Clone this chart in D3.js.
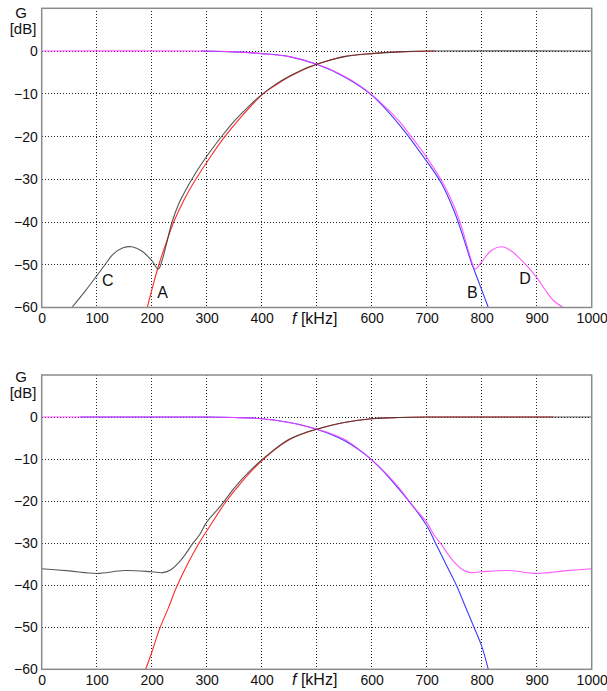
<!DOCTYPE html>
<html lang="en">
<head>
  <meta charset="UTF-8">
  <title>Filter gain G [dB] vs f [kHz]</title>
  <script src="https://d3js.org/d3.v7.min.js"></script>
  <style>
    body { margin: 0; background: #fff; }
    svg { display: block; font-family: "Liberation Sans", Arial, sans-serif; }
    .grid line { stroke: #222; stroke-width: 1; stroke-dasharray: 1,2; shape-rendering: crispEdges; }
    .frame { fill: none; stroke: #8a8a8a; stroke-width: 1.5; }
    .tick text { font-size: 14px; fill: #111; }
    .curve { fill: none; stroke-width: 1.1; }
    .lbl { fill: #111; }
  </style>
</head>
<body>
<svg width="607" height="691"></svg>
<script>
  // axis ticks
  const xTicks = [0, 100, 200, 300, 400, 500, 600, 700, 800, 900, 1000];
  const yTicks = [0, -10, -20, -30, -40, -50, -60];

  // top panel, [f kHz, G dB]
  const topMagenta = [[0,0],[300,0],[350,-0.2],[400,-0.6],[450,-1.3],[475,-2.1],[500,-3.1],
    [525,-4.3],[550,-5.9],[575,-7.8],[600,-10.2],[625,-13.1],[650,-16.4],[673,-20.2],[692,-23.4],
    [710,-26.8],[727,-30.3],[740,-33.5],[752,-37],[763,-41],[772,-45],[780,-48.5],[788,-51],
    [800,-49.3],[818,-46.6],[836,-45.8],[852,-46.6],[868,-48.4],[884,-50.5],[900,-53],
    [915,-55.8],[930,-58.3],[948,-60]];
  const topBlue = [[290,0],[350,-0.2],[400,-0.6],[450,-1.3],[500,-3.1],[550,-6],[600,-10.3],
    [650,-17.2],[700,-25.8],[727,-31],[750,-37.5],[765,-43],[780,-49],[796,-54.5],[812,-60]];
  const topBlack = [[55,-60],[80,-56],[100,-52.6],[115,-50],[130,-47.5],[148,-46],[164,-45.8],
    [182,-46.8],[200,-49],[212,-51],[220,-48.5],[228,-44.5],[237,-40],[250,-35.5],[262,-32.5],
    [273,-30],[290,-26.5],[308,-23.2],[327,-20],[350,-16.4],[375,-13.1],[400,-10.2],[425,-7.8],
    [450,-5.9],[475,-4.3],[500,-3.1],[525,-2.1],[550,-1.3],[600,-0.6],[650,-0.2],[700,0],[1000,0]];
  const topRed = [[192,-60],[202,-55],[213,-50],[226,-45],[240,-40],[258,-35],[280,-30],
    [303,-25.5],[330,-20.5],[360,-15.8],[400,-10.3],[425,-8],[450,-6],[500,-3.1],[550,-1.3],
    [600,-0.6],[650,-0.2],[715,0]];
  const topLabels = [["C",120,-54.9],["A",220,-57.7],["B",783,-57.7],["D",879,-54.4]];

  // bottom panel
  const botMagenta = [[0,0],[300,0],[350,-0.1],[400,-0.4],[450,-1.3],[475,-2],[500,-2.9],
    [525,-3.9],[550,-5.3],[575,-7.5],[600,-10.2],[625,-13.3],[650,-16.9],[675,-21.2],
    [700,-25],[713,-28],[725,-30],[738,-32.5],[750,-34.5],[765,-36.3],[780,-37],[800,-36.8],
    [850,-36.5],[900,-37.2],[950,-36.6],[1000,-36.1]];
  const botBlue = [[70,0],[300,0],[350,-0.1],[400,-0.4],[450,-1.3],[500,-2.9],[550,-5.6],
    [600,-10.2],[650,-17.2],[700,-25.8],[716,-30],[735,-35],[754,-40],[770,-45],[786,-50],
    [800,-54.5],[812,-60]];
  const botBlack = [[0,-36.1],[50,-36.6],[100,-37.2],[150,-36.5],[200,-36.8],[220,-37],
    [235,-36.3],[250,-34.5],[262,-32.5],[275,-30],[287,-28],[300,-25],[325,-21.2],
    [350,-16.9],[375,-13.3],[400,-10.2],[425,-7.5],[450,-5.3],[475,-3.9],[500,-2.9],
    [525,-2],[550,-1.3],[600,-0.4],[650,-0.1],[700,0],[1000,0]];
  const botRed = [[189,-60],[200,-56],[214,-50.5],[230,-45.5],[245,-40.5],[265,-35],
    [286,-30],[308,-25.5],[333,-20.5],[360,-16],[400,-10.4],[450,-5.4],[500,-2.9],
    [550,-1.3],[600,-0.4],[650,-0.1],[700,0],[930,0]];

  const colors = { magenta: "#ff3cff", blue: "#3c3cff", black: "#3a3a3a", red: "#ff2a2a" };

  const svg = d3.select("svg");
  const x = d3.scaleLinear().domain([0, 1000]).range([41.7, 591.7]);

  function panel(yRange, curves, labels, gTop) {
    const y = d3.scaleLinear().domain([-60, 10]).range(yRange);
    const g = svg.append("g");

    // dotted grid
    const grid = g.append("g").attr("class", "grid");
    grid.selectAll("line.v").data(xTicks.slice(1, -1)).join("line")
      .attr("x1", d => x(d)).attr("x2", d => x(d))
      .attr("y1", y(10)).attr("y2", y(-60));
    grid.selectAll("line.h").data(yTicks.slice(0, -1)).join("line")
      .attr("x1", x(0)).attr("x2", x(1000))
      .attr("y1", d => y(d)).attr("y2", d => y(d));

    const line = d3.line().x(d => x(d[0])).y(d => y(d[1])).curve(d3.curveCatmullRom.alpha(0.5));
    curves.forEach(([data, col, op]) => {
      g.append("path").datum(data).attr("class", "curve")
        .attr("stroke", col).attr("stroke-opacity", op).attr("d", line);
    });

    g.append("rect").attr("class", "frame")
      .attr("x", x(0)).attr("y", y(10))
      .attr("width", x(1000) - x(0)).attr("height", y(-60) - y(10));

    // axes, labels only
    const xa = g.append("g").attr("transform", `translate(0,${y(-60)})`)
      .call(d3.axisBottom(x).tickValues(xTicks).tickSize(0).tickPadding(6)
        .tickFormat(d => d === 500 ? "" : d));
    xa.select(".domain").remove();
    const ya = g.append("g").attr("transform", `translate(${x(0)},0)`)
      .call(d3.axisLeft(y).tickValues(yTicks).tickSize(0).tickPadding(4));
    ya.select(".domain").remove();
    g.selectAll(".tick text").attr("font-family", null).attr("font-size", null);

    const xl = g.append("text").attr("class", "lbl").style("font-size", "16px")
      .attr("x", 292).attr("y", y(-60) + 16);
    xl.append("tspan").attr("font-style", "italic").text("f");
    xl.append("tspan").text(" [kHz]");

    g.append("text").attr("class", "lbl").attr("text-anchor", "middle").style("font-size", "15px")
      .attr("x", 21).attr("y", gTop).text("G");
    g.append("text").attr("class", "lbl").attr("text-anchor", "middle").style("font-size", "15px")
      .attr("x", 23).attr("y", gTop + 16).text("[dB]");

    g.selectAll("text.curve-lbl").data(labels).join("text")
      .attr("class", "lbl curve-lbl").attr("text-anchor", "middle").style("font-size", "16px")
      .attr("x", d => x(d[1])).attr("y", d => y(d[2]))
      .text(d => d[0]);
  }

  panel([307.5, 8.3], [
    [topBlue, colors.blue, 1], [topRed, colors.red, 1],
    [topMagenta, colors.magenta, 0.85], [topBlack, colors.black, 0.85]
  ], topLabels, 18);

  panel([669.3, 375], [
    [botBlue, colors.blue, 1], [botRed, colors.red, 1],
    [botMagenta, colors.magenta, 0.85], [botBlack, colors.black, 0.85]
  ], [], 382);
</script>
</body>
</html>
